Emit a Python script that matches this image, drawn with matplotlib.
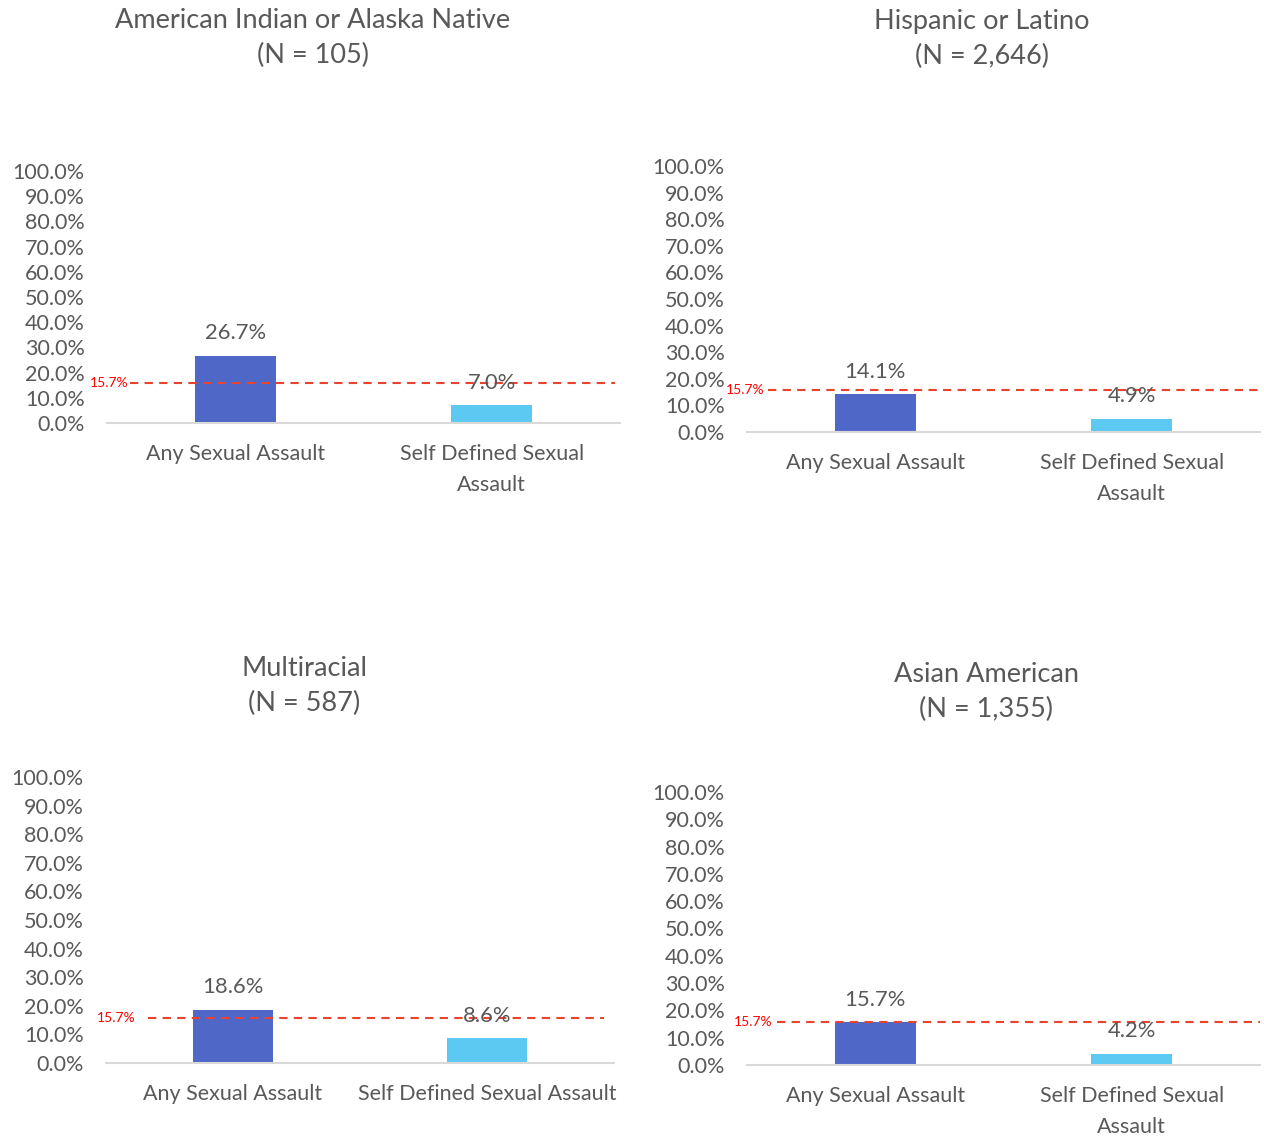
import numpy as np
import matplotlib.pyplot as plt

plt.rcParams['font.family'] = ['Lato', 'DejaVu Sans']

# data
groups = ["American Indian or Alaska Native", "Hispanic or Latino", "Multiracial", "Asian American"]
group_n = ["105", "2,646", "587", "1,355"]
categories = ["Any Sexual Assault", "Self Defined Sexual Assault"]
any_assault = [26.7, 14.1, 18.6, 15.7]
self_defined = [7.0, 4.9, 8.6, 4.2]
overall_rate = 15.7
wrap_labels = [True, True, False, True]

# layout (pixel boxes: left, right, top(100%), bottom(0%)), title centre
W, H = 1264, 1137
boxes = [(107, 620, 171, 423), (747, 1260, 166, 432), (106, 614, 777, 1063), (747, 1260, 792, 1065)]
title_pos = [(313, 38), (982, 39), (304, 686), (986, 692)]
ref_span = [(0.045, 0.99), (0.041, 1.0), (0.083, 0.98), (0.058, 1.0)]
ref_label_x = [0.041, 0.035, 0.059, 0.05]

text_col = '#595959'
bar_cols = ['#4F67C7', '#5BC9F1']

fig = plt.figure(figsize=(W / 100, H / 100), dpi=100)

for i in range(4):
    l, r, t, b = boxes[i]
    ax = fig.add_axes([l / W, 1 - b / H, (r - l) / W, (b - t) / H])
    vals = [any_assault[i], self_defined[i]]
    x = np.arange(len(categories))
    bars = ax.bar(x, vals, width=0.315, color=bar_cols, zorder=2)
    for rect, v in zip(bars, vals):
        ax.annotate(f"{v:.1f}%", (rect.get_x() + rect.get_width() / 2, v),
                    xytext=(0, 9), textcoords='offset points', ha='center', va='bottom',
                    fontsize=15.8, color=text_col, zorder=4)
    ax.set_xlim(-0.5, 1.5)
    ax.set_ylim(0, 100)
    ax.set_yticks(np.arange(0, 101, 10))
    ax.set_yticklabels([f"{v:.1f}%" for v in np.arange(0, 101, 10)], fontsize=15.5, color=text_col)
    labels = ["Any Sexual Assault", "Self Defined Sexual\nAssault"] if wrap_labels[i] else categories
    ax.set_xticks(x)
    ax.set_xticklabels(labels, fontsize=15.5, color=text_col, linespacing=1.7)
    ax.tick_params(axis='y', length=0, pad=16)
    ax.tick_params(axis='x', length=0, pad=15)
    for s in ['top', 'right', 'left']:
        ax.spines[s].set_visible(False)
    ax.spines['bottom'].set_color('#D9D9D9')
    ax.spines['bottom'].set_linewidth(1.5)

    # overall reference line
    ax.axhline(overall_rate, xmin=ref_span[i][0], xmax=ref_span[i][1], color='#E8432E',
               linestyle=(0, (4, 3)), linewidth=1.5, clip_on=False, zorder=3)
    ax.text(ref_label_x[i], overall_rate, f"{overall_rate}%", transform=ax.get_yaxis_transform(),
            ha='right', va='center', fontsize=10, color='#FF0000', clip_on=False)

    tx, ty = title_pos[i]
    fig.text(tx / W, 1 - ty / H, f"{groups[i]}\n(N = {group_n[i]})", ha='center', va='center',
             fontsize=19.5, color=text_col, linespacing=1.5)

fig.savefig('out.png', dpi=100)
